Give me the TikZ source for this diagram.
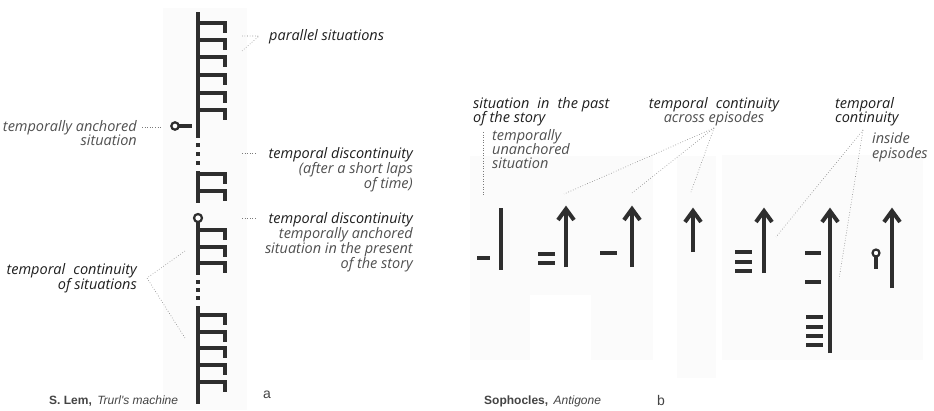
\documentclass[tikz,border=0pt]{standalone}
\usepackage{fontspec}
\setmainfont{Open Sans}
\newfontfamily\credfont{Liberation Sans}
\definecolor{ink}{HTML}{1F1F1F}
\definecolor{inkgray}{HTML}{505050}
\definecolor{glyph}{HTML}{2E2E2E}
\definecolor{panel}{HTML}{FBFBFB}
\definecolor{lead}{HTML}{7A7A7A}
\definecolor{cred}{HTML}{444444}
\begin{document}
\begin{tikzpicture}[x=1pt,y=-1pt,
  lab/.style={inner sep=0pt, font=\fontsize{14.5}{15}\selectfont\itshape, text=ink},
  sub/.style={lab, text=inkgray},
  credit/.style={inner sep=0pt, font=\credfont\fontsize{12}{13}\selectfont, text=cred},
  letter/.style={inner sep=0pt, font=\credfont\fontsize{14}{16}\selectfont, text=cred},
  bar/.style={draw=glyph, line width=4pt},
  hook/.style={bar, line join=miter},
  ring/.style={draw=glyph, line width=2.2pt, fill=white},
  leader/.style={draw=lead, line width=0.6pt, dotted},
  sq/.style={fill=glyph},
]
\useasboundingbox (0,0) rectangle (934,410);
\fill[white] (0,0) rectangle (934,410);

% faint background panels
\fill[panel] (163,8) rectangle (247,410);
\fill[panel] (470,156) rectangle (653,360);
\fill[white] (530,295) rectangle (591,360);
\fill[panel] (677,156) rectangle (716,378);
\fill[panel] (722,155) rectangle (923,360);

% ---------- left: the machine's time line ----------
\draw[bar] (198,12) -- (198,138);
\foreach \y in {145,154,163} \fill[sq] (196,\y-2) rectangle (200,\y+2);
\draw[bar] (198,171) -- (198,203);
\draw[bar] (198,222) -- (198,275);
\foreach \y in {282,290,298} \fill[sq] (196,\y-2) rectangle (200,\y+2);
\draw[bar] (198,306) -- (198,404);
\foreach \y in {23,40,57,75,93,110,174,191,230,247,263,315,332,348,365,382}
  \draw[hook] (198,\y) -- (225,\y) -- (225,\y+10);
\draw[ring] (198,218) circle (4);
% anchored situation on the left
\draw[bar] (179,126) -- (192,126);
\draw[ring] (175,126) circle (3.7);

% left labels
\node[sub, anchor=base east] (anch1) at (137,131) {temporally anchored};
\node[sub, anchor=base east] (anch2) at (137,145) {situation};
\node[lab, anchor=base west] (par) at (269,40) {parallel situations};
\node[lab, anchor=base east] (disA1) at (413,158) {temporal discontinuity};
\node[sub, anchor=base east] (disA2) at (413,173) {(after a short laps};
\node[sub, anchor=base east] (disA3) at (413,188) {of time)};
\node[lab, anchor=base east] (disB1) at (413,223) {temporal discontinuity};
\node[sub, anchor=base east] (disB2) at (413,238) {temporally anchored};
\node[sub, anchor=base east] (disB3) at (413,253) {situation in the present};
\node[sub, anchor=base east] (disB4) at (413,268) {of the story};
\node[lab, anchor=base east] (cont1) at (137,274) {temporal\hspace{0.3em} continuity};
\node[lab, anchor=base east] (cont2) at (137,289) {of situations};

% left leaders
\coordinate (a1) at (142,127); \coordinate (a2) at (161,127);
\draw[leader] (a1) -- (a2);
\coordinate (p1) at (242,36); \coordinate (p2) at (259,36); \coordinate (p3) at (242,51);
\draw[leader] (p1) -- (p2) -- (p3);
\coordinate (d1) at (242,153); \coordinate (d2) at (257,153);
\draw[leader] (d1) -- (d2);
\coordinate (e1) at (242,218); \coordinate (e2) at (257,218);
\draw[leader] (e1) -- (e2);
\coordinate (c0) at (147,278); \coordinate (c1) at (185,251); \coordinate (c2) at (185,338);
\draw[leader] (c1) -- (c0) -- (c2);

\node[credit, anchor=base west] (lem) at (49,404) {\textbf{S. Lem,}\hspace{0.45em}\textit{Trurl's machine}};
\node[letter, anchor=base west] (la) at (263,398) {a};

% ---------- right: episodes ----------
% unanchored situation
\draw[bar] (501,208) -- (501,270);
\draw[bar] (477,258) -- (490,258);
% arrows
\foreach \x/\t/\b in {566/205/267, 632/205/267, 693/207/252, 764/207/273, 830/207/353, 892/207/288}{
  \draw[bar] (\x,\b) -- (\x,\t+4);
  \draw[hook] (\x-8,\t+15) -- (\x,\t+4) -- (\x+8,\t+15);
}
% situations beside the arrows
\draw[bar] (538,254) -- (555,254);
\draw[bar] (538,263) -- (555,263);
\draw[bar] (600,253) -- (617,253);
\foreach \y in {252,262,271} \draw[bar] (735,\y) -- (752,\y);
\draw[bar] (805,253) -- (821,253);
\draw[bar] (805,282) -- (821,282);
\foreach \y in {317,327,336,345} \draw[bar] (806,\y) -- (823,\y);
% anchored situation
\draw[bar] (876,257) -- (876,269);
\draw[ring] (876,253) circle (3.5);

% right labels
\node[lab, anchor=base west] (past1) at (473,108) {situation\hspace{0.3em} in\hspace{0.3em} the past};
\node[lab, anchor=base west] (past2) at (473,122) {of the story};
\node[sub, anchor=base west] (un1) at (492,140) {temporally};
\node[sub, anchor=base west] (un2) at (492,154) {unanchored};
\node[sub, anchor=base west] (un3) at (492,168) {situation};
\node[lab, anchor=base] (acr1) at (714,108) {temporal\hspace{0.3em} continuity};
\node[sub, anchor=base] (acr2) at (714,122) {across episodes};
\node[lab, anchor=base west] (ins1) at (835,108) {temporal};
\node[lab, anchor=base west] (ins2) at (835,122) {continuity};
\node[sub, anchor=base west] (ins3) at (872,143) {inside};
\node[sub, anchor=base west] (ins4) at (872,158) {episodes};

% right leaders
\coordinate (u1) at (483,132); \coordinate (u2) at (483,195);
\draw[leader] (u1) -- (u2);
\coordinate (f0) at (714,128);
\coordinate (f1) at (564,194); \coordinate (f2) at (632,193); \coordinate (f3) at (691,192);
\draw[leader] (f0) -- (f1);
\draw[leader] (f0) -- (f2);
\draw[leader] (f0) -- (f3);
\coordinate (g0) at (863,130);
\coordinate (g1) at (776,237); \coordinate (g2) at (839,279);
\draw[leader] (g0) -- (g1);
\draw[leader] (g0) -- (g2);

\node[credit, anchor=base west] (soph) at (484,404) {\textbf{Sophocles,}\hspace{0.45em}\textit{Antigone}};
\node[letter, anchor=base west] (lb) at (657,405) {b};
\end{tikzpicture}
\end{document}
